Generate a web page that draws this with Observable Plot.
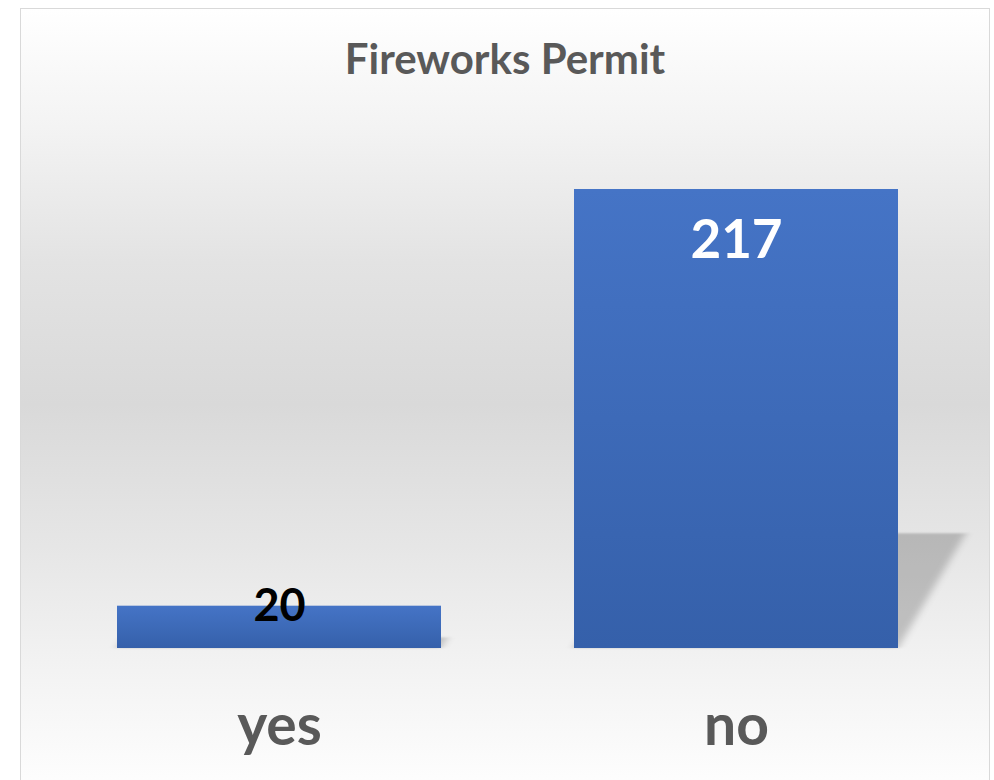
<!DOCTYPE html>
<html>
<head>
<meta charset="utf-8">
<script src="https://cdn.jsdelivr.net/npm/d3@7"></script>
<script src="https://cdn.jsdelivr.net/npm/@observablehq/plot@0.6"></script>
<style>
  html, body { margin: 0; padding: 0; background: #ffffff; width: 994px; height: 780px; overflow: hidden; }
  body { position: relative; font-family: Lato, "Open Sans", sans-serif; }
  #frame {
    position: absolute; left: 20px; top: 8px; width: 968px; height: 790px;
    border: 1px solid #d9d9d9;
    background: linear-gradient(to bottom, #ffffff 0%, #f3f3f3 15%, #e3e3e3 32%, #d9d9d9 50%, #e6e6e6 68%, #f4f4f4 85%, #ffffff 100%);
  }
  #title {
    position: absolute; left: 20px; width: 970px; top: 30px; text-align: center;
    font-family: Lato, sans-serif; font-weight: 700; font-size: 42px; color: #595959; line-height: 56px;
  }
  #chart { position: absolute; left: 0; top: 108px; }
</style>
</head>
<body>
<div id="frame"></div>
<div id="title">Fireworks Permit</div>
<div id="chart"></div>
<script>
const categories = ["yes", "no"];
const counts = [20, 217];

const data = categories.map((c, i) => ({category: c, count: counts[i]}));

function defs() {
  const ns = "http://www.w3.org/2000/svg";
  const d = document.createElementNS(ns, "defs");
  const g = document.createElementNS(ns, "linearGradient");
  g.setAttribute("id", "barGrad");
  g.setAttribute("x1", "0"); g.setAttribute("y1", "0");
  g.setAttribute("x2", "0"); g.setAttribute("y2", "1");
  [["0%", "#4574c6"], ["100%", "#3560aa"]].forEach(([o, c]) => {
    const s = document.createElementNS(ns, "stop");
    s.setAttribute("offset", o); s.setAttribute("stop-color", c);
    g.appendChild(s);
  });
  d.appendChild(g);
  const f = document.createElementNS(ns, "filter");
  f.setAttribute("id", "shadowBlur");
  f.setAttribute("x", "-20%"); f.setAttribute("y", "-20%");
  f.setAttribute("width", "140%"); f.setAttribute("height", "140%");
  const b = document.createElementNS(ns, "feGaussianBlur");
  b.setAttribute("stdDeviation", "4");
  f.appendChild(b);
  d.appendChild(f);
  return d;
}

const baseline = 540;

const chart = Plot.plot({
  width: 994,
  height: 672,
  marginTop: 0,
  marginBottom: 132,
  marginLeft: 0,
  marginRight: 0,
  style: {background: "transparent", overflow: "visible"},
  x: {domain: categories, range: [117, 899], paddingInner: 0.29, paddingOuter: 0, label: null},
  y: {domain: [0, 217], range: [baseline, 81], axis: null},
  marks: [
    defs,
    Plot.barY(data, {x: "category", y: "count", fill: "#000000", fillOpacity: 0.2}),
    Plot.barY(data, {x: "category", y: "count", fill: "url(#barGrad)"}),
    Plot.axisX({tickSize: 0, tickPadding: 56, fontSize: 57, fontWeight: "bold", fill: "#595959", fontFamily: "Lato, sans-serif"}),
    Plot.text(data, {filter: d => d.count < 100, x: "category", y: "count", text: d => String(d.count),
      fill: "#000000", fontSize: 45, fontWeight: "bold", fontFamily: "Lato, sans-serif", lineAnchor: "middle", dy: 0}),
    Plot.text(data, {filter: d => d.count >= 100, x: "category", y: "count", text: d => String(d.count),
      fill: "#ffffff", fontSize: 53, fontWeight: "bold", fontFamily: "Lato, sans-serif", lineAnchor: "middle", dy: 52})
  ]
});
// perspective shadow: first bar group is flattened and skewed behind the bars
const shadow = chart.querySelector('g[aria-label="bar"]');
if (shadow) {
  shadow.setAttribute("transform", `translate(0,${baseline}) skewX(-30.6) scale(1,0.25) translate(0,${-baseline})`);
  shadow.setAttribute("filter", "url(#shadowBlur)");
}
document.getElementById("chart").appendChild(chart);
</script>
</body>
</html>
